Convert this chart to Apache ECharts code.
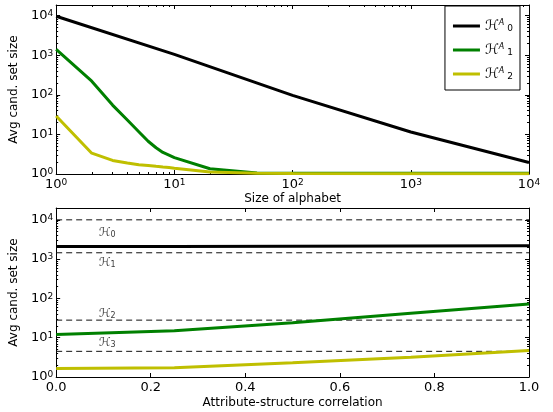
<!DOCTYPE html>
<html><head><meta charset="utf-8">
<script src="https://cdn.jsdelivr.net/npm/echarts@6/dist/echarts.min.js"></script>
<style>html,body{margin:0;padding:0;background:#fff}#c{width:553px;height:412px}</style>
</head><body><div id="c"></div>
<script>
// ---- data: top panel (Size of alphabet, log-log) ----
var alphaX = [1, 2, 3, 4, 5, 6, 7, 8, 9, 10, 20, 50, 100, 1000, 10000];
var blackX = [1, 10, 100, 1000, 10000];
var H0A = [9600, 1050, 97, 11.5, 1.95];
var H1A = [1400, 220, 55, 23, 11.7, 6.7, 4.6, 3.5, 3.0, 2.6, 1.36, 1.06, 1.05, 1.05, 1.05];
var H2A = [29, 3.35, 2.2, 1.9, 1.72, 1.64, 1.56, 1.5, 1.45, 1.4, 1.12, 1.04, 1.03, 1.02, 1.02];
var topNames = ['H0', 'H1', 'H2'];
// ---- data: bottom panel (Attribute-structure correlation) ----
var corrX = [0, 0.25, 0.5, 0.75, 1.0];
var corrBlack = [2100, 2100, 2120, 2150, 2200];
var corrGreen = [12, 15, 24, 42, 72];
var corrYellow = [1.65, 1.72, 2.3, 3.2, 4.7];
var hLevels = [10000, 1450, 28, 4.5];
var hNames = ['0', '1', '2', '3'];
var hLabelX = [0.09, 0.09, 0.09, 0.09];
var hLabelY = [4700, 800, 40, 7.2];
var xTicksBottom = [0, 0.2, 0.4, 0.6, 0.8, 1.0];

var FONT = 'DejaVu Sans';
function minorVals(maxExp) {
  var out = [];
  for (var e = 0; e <= maxExp; e++) for (var k = 2; k <= 9; k++) out.push(k * Math.pow(10, e));
  return out;
}
function pow10Label(v) { return '10{sup|' + Math.round(Math.log10(v)) + '}'; }
var supRich = { sup: { fontSize: 9, verticalAlign: 'top', lineHeight: 9, fontFamily: FONT, color: '#000' } };

function logAxis(grid, pos, opts) {
  var a = {
    type: 'log', logBase: 10, gridIndex: grid, position: pos,
    min: opts.min, max: opts.max,
    axisLine: { show: !!opts.line, onZero: false, lineStyle: { color: '#000', width: 1 } },
    axisTick: { show: true, inside: true, length: opts.minor ? 2 : 4, lineStyle: { color: '#000', width: 1 } },
    axisLabel: { show: !!opts.labels },
    splitLine: { show: false }, minorTick: { show: false }, axisPointer: { show: false }
  };
  if (opts.minor) a.axisTick.customValues = opts.minor;
  if (opts.labels) {
    a.axisLabel = { show: true, formatter: pow10Label, fontFamily: FONT, fontSize: 13, color: '#000',
      margin: opts.margin, rich: supRich, showMaxLabel: opts.showMax !== false, showMinLabel: true };
  }
  if (opts.name) {
    a.name = opts.name; a.nameLocation = 'middle'; a.nameGap = opts.nameGap;
    a.nameTextStyle = { fontFamily: FONT, fontSize: 12, color: '#000' };
  }
  return a;
}
function valAxis(grid, pos, opts) {
  var a = {
    type: 'value', gridIndex: grid, position: pos, min: 0, max: 1, interval: 0.2,
    axisLine: { show: true, onZero: false, lineStyle: { color: '#000', width: 1 } },
    axisTick: { show: true, inside: true, length: 4, lineStyle: { color: '#000' } },
    axisLabel: { show: !!opts.labels },
    splitLine: { show: false }, axisPointer: { show: false }
  };
  if (opts.labels) {
    a.axisLabel = { show: true, fontFamily: FONT, fontSize: 13, color: '#000', margin: 4,
      customValues: xTicksBottom, formatter: function (v) { return v.toFixed(1); } };
  }
  if (opts.name) {
    a.name = opts.name; a.nameLocation = 'middle'; a.nameGap = opts.nameGap;
    a.nameTextStyle = { fontFamily: FONT, fontSize: 12, color: '#000' };
  }
  return a;
}

var TOPMAX = 18500, BOTMAX = 20000;
var xAxes = [
  logAxis(0, 'bottom', { min: 1, max: 10000, line: true, labels: true, margin: 4, name: 'Size of alphabet', nameGap: 19 }),
  logAxis(0, 'top', { min: 1, max: 10000, line: true }),
  logAxis(0, 'bottom', { min: 1, max: 10000, minor: minorVals(3) }),
  logAxis(0, 'top', { min: 1, max: 10000, minor: minorVals(3) }),
  valAxis(1, 'bottom', { labels: true, name: 'Attribute-structure correlation', nameGap: 20 }),
  valAxis(1, 'top', {})
];
var yAxes = [
  logAxis(0, 'left', { min: 1, max: TOPMAX, line: true, labels: true, margin: 3, showMax: false, name: 'Avg cand. set size', nameGap: 31 }),
  logAxis(0, 'right', { min: 1, max: TOPMAX, line: true }),
  logAxis(0, 'left', { min: 1, max: TOPMAX, minor: minorVals(4) }),
  logAxis(0, 'right', { min: 1, max: TOPMAX, minor: minorVals(4) }),
  logAxis(1, 'left', { min: 1, max: BOTMAX, line: true, labels: true, margin: 3, showMax: false, name: 'Avg cand. set size', nameGap: 31 }),
  logAxis(1, 'right', { min: 1, max: BOTMAX, line: true }),
  logAxis(1, 'left', { min: 1, max: BOTMAX, minor: minorVals(4) }),
  logAxis(1, 'right', { min: 1, max: BOTMAX, minor: minorVals(4) })
];

function pairs(xs, ys) { return xs.map(function (x, i) { return [x, ys[i]]; }); }
function line(name, xi, yi, data, color, width, extra) {
  var s = { name: name, type: 'line', xAxisIndex: xi, yAxisIndex: yi, data: data, symbol: 'none', showSymbol: false,
    lineStyle: { color: color, width: width }, itemStyle: { color: color }, silent: true, z: 3 };
  if (extra) for (var k in extra) s[k] = extra[k];
  return s;
}

var series = [
  line(topNames[0], 0, 0, pairs(blackX, H0A), '#000000', 3),
  line(topNames[1], 0, 0, pairs(alphaX, H1A), '#008000', 3),
  line(topNames[2], 0, 0, pairs(alphaX, H2A), '#bfbf00', 3)
];
hLevels.forEach(function (v, i) {
  series.push(line('dash' + i, 4, 4, [[0, v], [1, v]], '#000000', 1,
    { lineStyle: { color: '#111', width: 1, type: [6, 4] }, z: 2 }));
});
series.push(line('b0', 4, 4, pairs(corrX, corrBlack), '#000000', 3));
series.push(line('b1', 4, 4, pairs(corrX, corrGreen), '#008000', 3));
series.push(line('b2', 4, 4, pairs(corrX, corrYellow), '#bfbf00', 3));
series.push({
  name: 'hlabels', type: 'scatter', xAxisIndex: 4, yAxisIndex: 4, symbolSize: 0, silent: true,
  data: hLabelX.map(function (x, i) { return { value: [x, hLabelY[i]], sub: hNames[i] }; }),
  label: { show: true, position: 'inside', align: 'left', verticalAlign: 'middle',
    formatter: function (p) { return '{h|ℋ}{sub|' + p.data.sub + '}'; },
    rich: { h: { fontFamily: FONT, fontSize: 12, fontStyle: 'italic', color: '#000' },
      sub: { fontFamily: FONT, fontSize: 8, verticalAlign: 'bottom', lineHeight: 8, color: '#000' } } }
});

var legendLabel = { 'H0': '0', 'H1': '1', 'H2': '2' };
var option = {
  animation: false,
  backgroundColor: '#fff',
  grid: [
    { left: 53, top: 5, width: 476, height: 169, containLabel: false },
    { left: 53, top: 208, width: 476, height: 169, containLabel: false }
  ],
  xAxis: xAxes,
  yAxis: yAxes,
  legend: {
    data: topNames, orient: 'vertical', right: 33, top: 6,
    backgroundColor: '#fff', borderColor: '#000', borderWidth: 1, borderRadius: 0,
    padding: [13, 7, 9, 8], itemGap: 10, itemWidth: 27, itemHeight: 3, icon: 'rect',
    formatter: function (n) { return '{h|ℋ}{sup|A}{sub|' + legendLabel[n] + '}'; },
    textStyle: { fontFamily: FONT, fontSize: 13, color: '#000',
      rich: { h: { fontSize: 14, fontStyle: 'italic', fontFamily: FONT },
        sup: { fontSize: 8, fontStyle: 'italic', verticalAlign: 'top', lineHeight: 8, fontFamily: FONT },
        sub: { fontSize: 9, verticalAlign: 'bottom', lineHeight: 9, fontFamily: FONT, padding: [0, 0, 0, 3] } } }
  },
  series: series
};
var chart = echarts.init(document.getElementById('c'), null, { renderer: 'canvas' });
chart.setOption(option);
</script></body></html>
